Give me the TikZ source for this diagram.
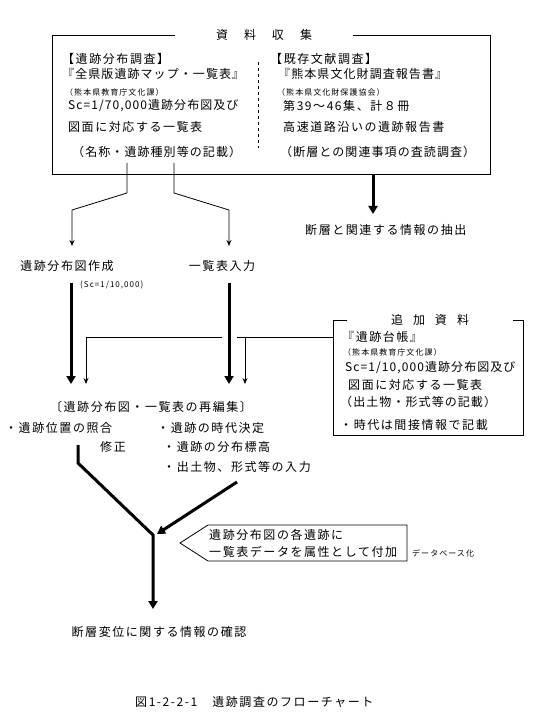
\documentclass[tikz,border=0pt]{standalone}
\usepackage{fontspec}
\usetikzlibrary{arrows.meta}
\newfontfamily\jp[LetterSpace=13]{Noto Sans CJK JP}
\newfontfamily\jpn[LetterSpace=9]{Noto Sans CJK JP}
\begin{document}
\begin{tikzpicture}[x=1pt,y=-1pt,
  t/.style={anchor=west,inner sep=0pt,font=\jp\fontsize{12}{12}\selectfont},
  tn/.style={anchor=west,inner sep=0pt,font=\jpn\fontsize{12}{12}\selectfont},
  tc/.style={inner sep=0pt,font=\jp\fontsize{12}{12}\selectfont},
  sm/.style={anchor=west,inner sep=0pt,font=\jp\fontsize{8}{8}\selectfont},
  frame/.style={line width=0.8pt},
  thinline/.style={line width=0.8pt},
  thinarrow/.style={line width=0.8pt,-{Stealth[length=6pt,width=5pt]}},
  thickline/.style={line width=3pt},
  thickarrow/.style={line width=3pt,-{Triangle[length=8pt,width=9pt]}},
]
\useasboundingbox[fill=white] (0,0) rectangle (553,727);

% ---- top box: 資料収集
\node[tc] (ttl1) at (264,35) {資\hspace{16pt}料\hspace{16pt}収\hspace{16pt}集};
\coordinate (b1a) at (175,35);
\coordinate (b1b) at (52,35);
\coordinate (b1c) at (52,174);
\coordinate (b1d) at (490,174);
\coordinate (b1e) at (490,35);
\coordinate (b1f) at (353,35);
\draw[frame] (b1a) -- (b1b) -- (b1c) -- (b1d) -- (b1e) -- (b1f);
\coordinate (dv1) at (258,62);
\coordinate (dv2) at (258,148);
\draw[thinline,dash pattern=on 3pt off 3pt] (dv1) -- (dv2);

\node[t] (l1) at (62,59) {【遺跡分布調査】};
\node[tn] (l2) at (62,74) {『全県版遺跡マップ・一覧表』};
\node[sm] (l3) at (65,92) {（熊本県教育庁文化課）};
\node[tn] (l4) at (68,106) {Sc=1/70,000遺跡分布図及び};
\node[t] (l5) at (68,127) {図面に対応する一覧表};
\node[tn] (l6) at (72,152) {（名称・遺跡種別等の記載）};

\node[t] (r1) at (270,59) {【既存文献調査】};
\node[tn] (r2) at (278,74) {『熊本県文化財調査報告書』};
\node[sm] (r3) at (277,92) {（熊本県文化財保護協会）};
\node[t] (r4) at (283,106) {第39〜46集、計８冊};
\node[t] (r5) at (283,127) {高速道路沿いの遺跡報告書};
\node[tn] (r6) at (280,152) {（断層との関連事項の査読調査）};

% ---- branches from top box
\coordinate (p1a) at (127,163);
\coordinate (p1b) at (127,193);
\coordinate (p1c) at (72,210);
\coordinate (p1d) at (72,246);
\coordinate (p2a) at (174,163);
\coordinate (p2b) at (174,193);
\coordinate (p2c) at (229,210);
\coordinate (p2d) at (229,246);
\draw[thinarrow] (p1a) -- (p1b) -- (p1c) -- (p1d);
\draw[thinarrow] (p2a) -- (p2b) -- (p2c) -- (p2d);

\node[tc] (mk1) at (67,266) {遺跡分布図作成};
\node[tc] (mk2) at (222,266) {一覧表入力};
\node[sm] (sc) at (80,285) {(Sc=1/10,000)};

\coordinate (ex1) at (373,174);
\coordinate (ex2) at (373,214);
\draw[thickarrow] (ex1) -- (ex2);
\node[t] (ext) at (305,230) {断層と関連する情報の抽出};

% ---- 追加資料 box
\node[tc] (ttl2) at (430,320) {追\hspace{10pt}加\hspace{10pt}資\hspace{10pt}料};
\coordinate (b2a) at (347,320);
\coordinate (b2b) at (333,320);
\coordinate (b2c) at (333,435);
\coordinate (b2d) at (523,435);
\coordinate (b2e) at (523,320);
\coordinate (b2f) at (513,320);
\draw[frame] (b2a) -- (b2b) -- (b2c) -- (b2d) -- (b2e) -- (b2f);
\node[t] (a1) at (342,337) {『遺跡台帳』};
\node[sm] (a2) at (343,352) {（熊本県教育庁文化課）};
\node[tn] (a3) at (345,368) {Sc=1/10,000遺跡分布図及び};
\node[t] (a4) at (348,385) {図面に対応する一覧表};
\node[tn] (a5) at (340,402) {（出土物・形式等の記載）};
\node[t] (a6) at (340,425) {・時代は間接情報で記載};

% ---- thick arrows to 再編集
\coordinate (k1a) at (71,283);
\coordinate (k1b) at (71,384);
\coordinate (k2a) at (229,283);
\coordinate (k2b) at (229,384);
\draw[thickarrow] (k1a) -- (k1b);
\draw[thickarrow] (k2a) -- (k2b);

% ---- thin lines from 追加資料
\coordinate (h1) at (333,337);
\coordinate (h2) at (237,337);
\coordinate (h3) at (245,337);
\coordinate (h4) at (245,384);
\coordinate (h5) at (222,337);
\coordinate (h6) at (86,337);
\coordinate (h7) at (86,384);
\draw[thinline] (h1) -- (h2);
\draw[thinarrow] (h3) -- (h4);
\draw[thinarrow] (h5) -- (h6) -- (h7);

\node[tc] (re) at (151,407) {〔遺跡分布図・一覧表の再編集〕};
\node[t] (re1) at (5,428) {・遺跡位置の照合};
\node[t] (re2) at (100,447) {修正};
\node[t] (re3) at (157,428) {・遺跡の時代決定};
\node[t] (re4) at (163,447) {・遺跡の分布標高};
\node[t] (re5) at (163,467) {・出土物、形式等の入力};

% ---- Y junction
\coordinate (y1) at (78,445);
\coordinate (y2) at (78,463);
\coordinate (y3) at (153,535);
\coordinate (y4) at (153,609);
\draw[thickarrow,line join=miter] (y1) -- (y2) -- (y3) -- (y4);
\coordinate (z1) at (237,482);
\coordinate (z2) at (157,534);
\draw[thickarrow] (z1) -- (z2);

% ---- callout
\coordinate (c1) at (208,525);
\coordinate (c2) at (407,525);
\coordinate (c3) at (407,561);
\coordinate (c4) at (208,561);
\coordinate (c5) at (180,543);
\draw[frame] (c1) -- (c2) -- (c3) -- (c4) -- (c5) -- cycle;
\node[t] (cb1) at (209,535) {遺跡分布図の各遺跡に};
\node[t] (cb2) at (209,552) {一覧表データを属性として付加};
\node[sm] (db) at (412,553) {データベース化};

\node[tc] (fin) at (159,632) {断層変位に関する情報の確認};
\node[t] (cap) at (135,702) {図1-2-2-1　遺跡調査のフローチャート};
\end{tikzpicture}
\end{document}
